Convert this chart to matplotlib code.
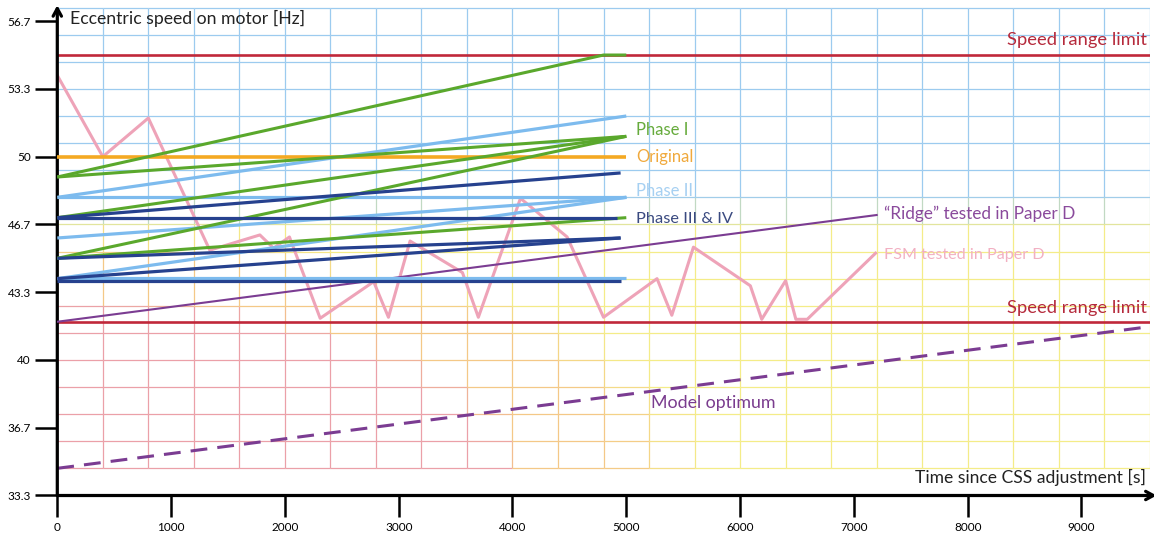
import numpy as np
import matplotlib
matplotlib.use("Agg")
import matplotlib.pyplot as plt
from matplotlib.collections import LineCollection
from matplotlib.colors import to_rgb

plt.rcParams['font.family'] = ['Lato', 'DejaVu Sans']

# ---- data ----
speed_ticks = [33.333, 36.667, 40.0, 43.333, 46.667, 50.0, 53.333, 56.667]
speed_labels = ["33.3", "36.7", "40", "43.3", "46.7", "50", "53.3", "56.7"]
time_ticks = [0, 1000, 2000, 3000, 4000, 5000, 6000, 7000, 8000, 9000]

limit_upper = 55.0
limit_lower = 41.85

original_x = [0, 5000]
original_y = [50, 50]

phase1_x = [[0, 4800, 5000], [0, 5000], [0, 5000], [0, 5000], [0, 5000]]
phase1_y = [[49, 55, 55], [49, 51], [47, 51], [45, 51], [45, 47]]

phase2_x = [[0, 5000], [0, 5000], [0, 5000], [0, 5000], [0, 5000]]
phase2_y = [[48, 52], [48, 48], [46, 48], [44, 48], [44.05, 44.05]]

phase34_x = [[0, 4950], [0, 4920], [0, 4950], [0, 4950], [0, 4950]]
phase34_y = [[47, 49.2], [47, 47], [45, 46], [44, 46], [43.9, 43.9]]

ridge_x = [0, 7200]
ridge_y = [41.88, 47.13]

optimum_x = [0, 9600]
optimum_y = [34.67, 41.64]

fsm_x = [0, 400, 800, 1340, 1780, 1900, 2040, 2310, 2780, 2910, 3100, 3560,
         3700, 4070, 4480, 4800, 5270, 5400, 5590, 6090, 6190, 6400, 6490,
         6590, 7190]
fsm_y = [54.0, 50.0, 51.9, 45.4, 46.15, 45.5, 46.05, 42.05, 43.85, 42.1, 45.85,
         44.3, 42.1, 47.95, 46.05, 42.1, 44.0, 42.2, 45.55, 43.65, 42.0, 43.9,
         42.0, 42.0, 45.25]

# ---- colours ----
C_LIMIT = "#c0283a"
C_GREEN = "#5aa82c"
C_LBLUE = "#7dbbee"
C_DBLUE = "#26418e"
C_ORANGE = "#f4a922"
C_PURPLE = "#7b3c92"
C_PINK = "#eea3b8"

fig = plt.figure(figsize=(11.54, 5.36), dpi=100)
ax = fig.add_axes([0.04965, 0.07556, 0.94669, 0.9166])
ax.set_xlim(0, 9600)
ax.set_ylim(33.333, 57.5)

# ---- coloured background grid (blue top, red/orange/yellow bottom) ----
gx = np.arange(0, 9601, 400)
gy = 34.667 + np.arange(18) * (4.0 / 3.0)
blue = np.array(to_rgb("#9ccbef"))
red = np.array(to_rgb("#eba0a8"))
orange = np.array(to_rgb("#f4c887"))
yellow = np.array(to_rgb("#f4ec88"))


def grid_colour(x, y):
    d = np.hypot(x / 3800.0, (y - 34.667) / 8.0)
    if d < 1.0:
        warm = red
    elif d < 1.5:
        t = (d - 1.0) / 0.5
        warm = orange if t < 0.6 else orange + (yellow - orange) * (t - 0.6) / 0.4
        if t < 0.15:
            warm = red + (orange - red) * (t / 0.15)
    else:
        warm = yellow
    w = np.clip((y - 46.3) / 1.8, 0, 1)
    return warm * (1 - w) + blue * w


segs, cols = [], []
for x in gx:
    for y0, y1 in zip(gy[:-1], gy[1:]):
        segs.append([(x, y0), (x, y1)])
        cols.append(grid_colour(x, (y0 + y1) / 2))
for y in gy:
    for x0, x1 in zip(gx[:-1], gx[1:]):
        segs.append([(x0, y), (x1, y)])
        cols.append(grid_colour((x0 + x1) / 2, y))
ax.add_collection(LineCollection(segs, colors=cols, linewidths=0.9, zorder=1))

# ---- curves ----
ax.plot(optimum_x, optimum_y, color=C_PURPLE, lw=2.2, dashes=(5.5, 3.3), zorder=3)
ax.plot(fsm_x, fsm_y, color=C_PINK, lw=2.2, zorder=3)
ax.axhline(limit_upper, color=C_LIMIT, lw=1.9, zorder=3)
ax.axhline(limit_lower, color=C_LIMIT, lw=1.9, zorder=3)
ax.plot(ridge_x, ridge_y, color=C_PURPLE, lw=1.5, zorder=4)

for xs, ys in zip(phase2_x, phase2_y):
    ax.plot(xs, ys, color=C_LBLUE, lw=2.3, solid_capstyle='butt', zorder=5)
for xs, ys in zip(phase1_x, phase1_y):
    ax.plot(xs, ys, color=C_GREEN, lw=2.2, solid_capstyle='butt', zorder=6)
for xs, ys in zip(phase34_x, phase34_y):
    ax.plot(xs, ys, color=C_DBLUE, lw=2.3, solid_capstyle='butt', zorder=6)
ax.plot(original_x, original_y, color=C_ORANGE, lw=2.6, solid_capstyle='butt', zorder=5)

# ---- labels ----
ax.text(110, 56.8, "Eccentric speed on motor [Hz]", fontsize=12.7, color="#222222",
        ha='left', va='center')
ax.text(9572, 55.72, "Speed range limit", fontsize=13.2, color="#b52a3c", ha='right', va='center')
ax.text(9572, 42.56, "Speed range limit", fontsize=13.2, color="#b52a3c", ha='right', va='center')
ax.text(5085, 51.3, "Phase I", fontsize=12, color="#66ab3c", ha='left', va='center')
ax.text(5085, 49.98, "Original", fontsize=12, color="#f0a93c", ha='left', va='center')
ax.text(5085, 48.31, "Phase II", fontsize=12, color="#a6d0f2", ha='left', va='center')
ax.text(5085, 46.94, "Phase III & IV", fontsize=11.8, color="#3a4a80", ha='left', va='center')
ax.text(7265, 47.18, "\u201cRidge\u201d tested in Paper D", fontsize=12.4, color="#8a4a9c",
        ha='left', va='center')
ax.text(7265, 45.16, "FSM tested in Paper D", fontsize=11.6, color="#f2b0c2",
        ha='left', va='center')
ax.text(5217, 37.88, "Model optimum", fontsize=12.8, color="#7a3c8e", ha='left', va='center')
ax.text(9566, 34.24, "Time since CSS adjustment [s]", fontsize=12.6, color="#222222",
        ha='right', va='center')

# ---- axes with arrows ----
for s in ax.spines.values():
    s.set_visible(False)
arrow = dict(arrowstyle='->,head_length=0.55,head_width=0.3', lw=2.3, color='black',
             shrinkA=0, shrinkB=0)
ax.annotate("", xy=(0, 57.45), xytext=(0, 33.333), arrowprops=arrow, annotation_clip=False)
ax.annotate("", xy=(9660, 33.333), xytext=(0, 33.333), arrowprops=arrow, annotation_clip=False)

ax.set_xticks(time_ticks)
ax.set_xticklabels([str(t) for t in time_ticks])
ax.set_yticks(speed_ticks)
ax.set_yticklabels(speed_labels)
ax.tick_params(direction='out', length=16, width=1.8, colors='black',
               labelsize=8.5, pad=3)
ax.tick_params(axis='y', pad=3)

fig.savefig("out.png", dpi=100)
